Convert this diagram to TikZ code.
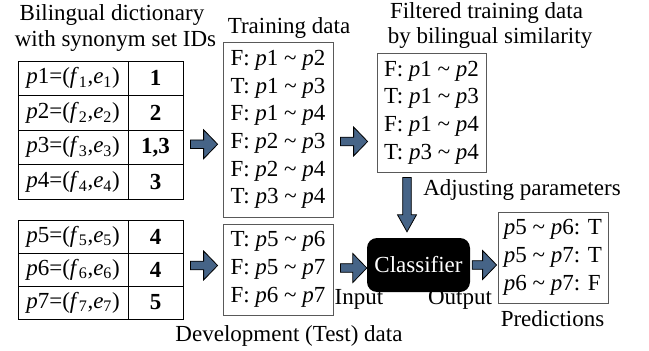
\documentclass[tikz,border=0pt]{standalone}
\usepackage{fontspec}
\setmainfont{Liberation Serif}
\usetikzlibrary{calc}
\definecolor{arrowblue}{RGB}{70,100,135}
\def\hsw{4.3pt}\def\hhw{14.5pt}\def\hhl{14pt}
\def\vsw{4.3pt}\def\vhw{9.5pt}\def\vhl{17pt}
\newcommand{\pp}[1]{\textit{p}#1}
\newcommand{\pair}[3]{\textit{p}#1=(\textit{f}\textsubscript{#2},\textit{e}\textsubscript{#3})}
\newcommand{\sm}{\textasciitilde{}}
\begin{document}
\begin{tikzpicture}[x=1pt,y=-1pt,
  txt/.style={font=\fontsize{23}{27.7}\selectfont, inner sep=0pt},
  cellA/.style={txt, draw=black, line width=0.9pt, minimum width=110pt},
  cellB/.style={txt, draw=black, line width=0.9pt, minimum width=55pt, font=\fontsize{23}{27.7}\selectfont\bfseries},
  box/.style={txt, draw=black!65, line width=0.8pt, align=left},
  barrow/.style={draw=black, line width=0.8pt, fill=arrowblue, line join=miter},
  harrow/.style={to path={let \p1=(\tikztostart), \p2=(\tikztotarget) in
     (\x1,{\y1+\hsw}) -- ({\x2-\hhl},{\y1+\hsw}) -- ({\x2-\hhl},{\y1+\hhw}) -- (\x2,\y1)
     -- ({\x2-\hhl},{\y1-\hhw}) -- ({\x2-\hhl},{\y1-\hsw}) -- (\x1,{\y1-\hsw}) -- cycle}},
  varrow/.style={to path={let \p1=(\tikztostart), \p2=(\tikztotarget) in
     ({\x1-\vsw},\y1) -- ({\x1-\vsw},{\y2+\vhl}) -- ({\x1-\vhw},{\y2+\vhl}) -- (\x1,\y2)
     -- ({\x1+\vhw},{\y2+\vhl}) -- ({\x1+\vsw},{\y2+\vhl}) -- ({\x1+\vsw},\y1) -- cycle}}
]
\fill[white] (0,0) rectangle (649,351);
\useasboundingbox (0,0) rectangle (649,351);

% titles
\node[txt, anchor=base] (t1a) at (112,20) {Bilingual dictionary};
\node[txt, anchor=base] (t1b) at (115.5,46.7) {with synonym set IDs};
\node[txt, anchor=base] (t2) at (289,33.3) {Training data};
\node[txt, anchor=base] (t3a) at (486.5,18.3) {Filtered training data};
\node[txt, anchor=base] (t3b) at (490,43.3) {by bilingual similarity};

% dictionary table 1
\node[cellA, minimum height=34.5pt] (r1a) at (73,78.25) {\pair{1}{1}{1}};
\node[cellB, minimum height=34.5pt] (r1b) at (155.5,78.25) {1};
\node[cellA, minimum height=34.5pt] (r2a) at (73,112.75) {\pair{2}{2}{2}};
\node[cellB, minimum height=34.5pt] (r2b) at (155.5,112.75) {2};
\node[cellA, minimum height=34.5pt] (r3a) at (73,147.25) {\pair{3}{3}{3}};
\node[cellB, minimum height=34.5pt] (r3b) at (155.5,147.25) {1,3};
\node[cellA, minimum height=34.5pt] (r4a) at (73,181.75) {\pair{4}{4}{4}};
\node[cellB, minimum height=34.5pt] (r4b) at (155.5,181.75) {3};

% dictionary table 2
\node[cellA, minimum height=33pt] (r5a) at (73,236.5) {\pair{5}{5}{5}};
\node[cellB, minimum height=33pt] (r5b) at (155.5,236.5) {4};
\node[cellA, minimum height=33pt] (r6a) at (73,269.5) {\pair{6}{6}{6}};
\node[cellB, minimum height=33pt] (r6b) at (155.5,269.5) {4};
\node[cellA, minimum height=33pt] (r7a) at (73,302.5) {\pair{7}{7}{7}};
\node[cellB, minimum height=33pt] (r7b) at (155.5,302.5) {5};

% training data
\node[box, minimum width=110pt, minimum height=175pt] (train) at (278,129.5)
 {F: \pp1 \sm{} \pp2\\T: \pp1 \sm{} \pp3\\F: \pp1 \sm{} \pp4\\F: \pp2 \sm{} \pp3\\F: \pp2 \sm{} \pp4\\T: \pp3 \sm{} \pp4};

% development data
\node[box, minimum width=110pt, minimum height=91pt] (dev) at (278,269.5)
 {T: \pp5 \sm{} \pp6\\F: \pp5 \sm{} \pp7\\F: \pp6 \sm{} \pp7};
\node[txt, anchor=base] (t4) at (289,341.7) {Development (Test) data};

% filtered
\node[box, minimum width=109pt, minimum height=119pt] (filt) at (431.5,112.5)
 {F: \pp1 \sm{} \pp2\\T: \pp1 \sm{} \pp3\\F: \pp1 \sm{} \pp4\\T: \pp3 \sm{} \pp4};

% classifier
\node[txt, fill=black, text=white, rounded corners=10pt, minimum width=103pt, minimum height=54pt] (clf) at (418.5,265) {Classifier};
\node[txt, anchor=base] (adj) at (522,195.7) {Adjusting parameters};
\node[txt, anchor=base] (inp) at (359,304) {Input};
\node[txt, anchor=base] (outp) at (460,304) {Output};

% predictions
\node[box, minimum width=110pt, minimum height=91pt] (pred) at (553,257.5)
 {\pp5 \sm{} \pp6: T\\\pp5 \sm{} \pp7: T\\\pp6 \sm{} \pp7: F};
\node[txt, anchor=base] (t5) at (552.5,326.7) {Predictions};

% block arrows
\draw[barrow] ([xshift=7pt,yshift=3pt]r3b.east) to[harrow] ([xshift=-5pt]train.west);
\draw[barrow] ([xshift=7pt,yshift=4pt]r6b.east) to[harrow] ([xshift=-5pt]dev.west);
\draw[barrow] ([xshift=7pt,yshift=-12pt]train.east) to[harrow] ([xshift=-9pt]filt.west);
\draw[barrow] ([xshift=7pt,yshift=1.5pt]dev.east) to[harrow] (clf.west);
\draw[barrow] ([xshift=2pt]clf.east) to[harrow] ([xshift=-1pt]pred.west);
\draw[barrow] ([xshift=-24.5pt,yshift=-5pt]filt.south) to[varrow] ([yshift=6pt]clf.north);
\end{tikzpicture}
\end{document}
